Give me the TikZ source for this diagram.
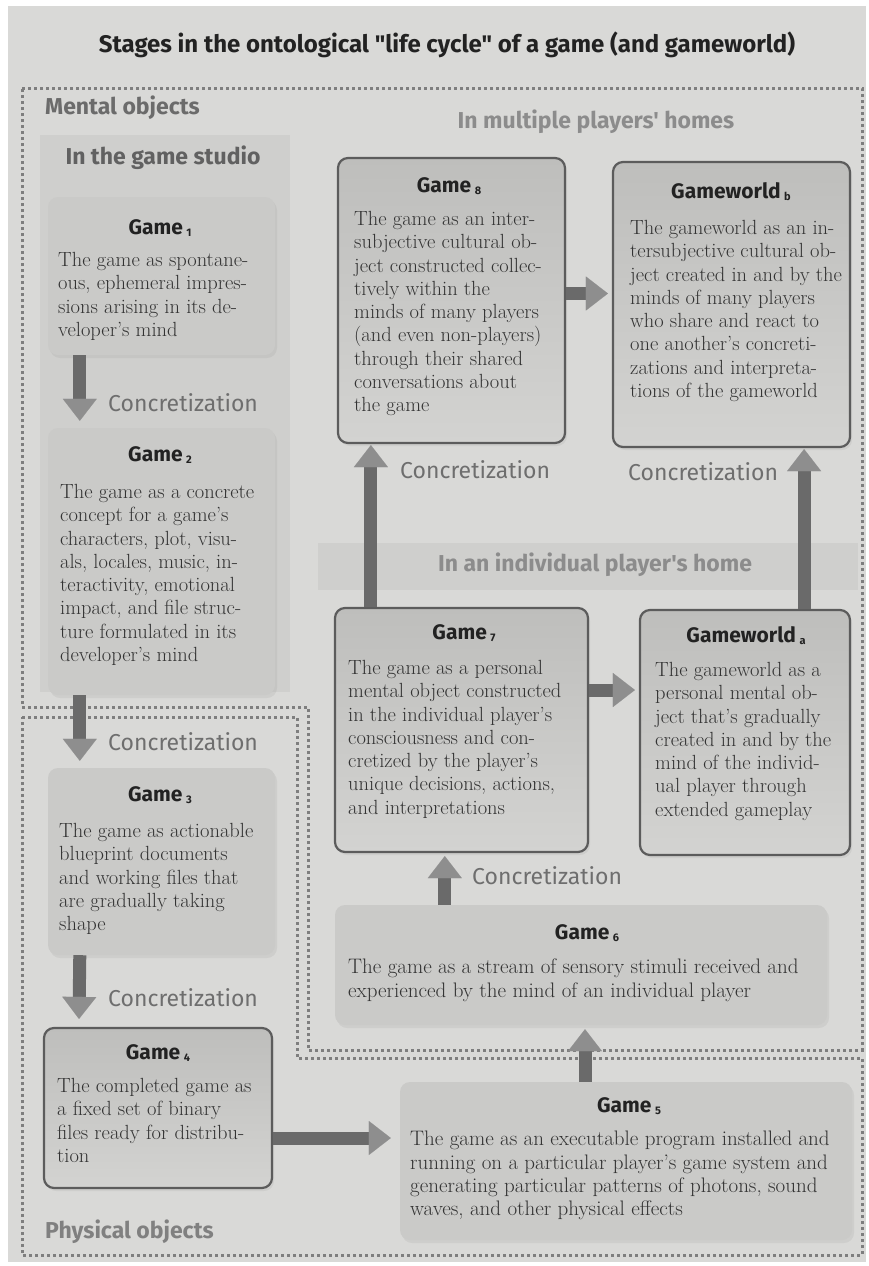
\documentclass[tikz,border=0pt]{standalone}
\usepackage{fontspec}
\newfontfamily\firasans{Fira Sans}
\usetikzlibrary{arrows.meta,shadows}
\definecolor{page}{HTML}{D9D9D7}
\definecolor{studio}{HTML}{CFCFCD}
\definecolor{band}{HTML}{CFCFCD}
\definecolor{softfill}{HTML}{CACAC8}
\definecolor{hardtop}{HTML}{BEBEBC}
\definecolor{hardbot}{HTML}{D3D3D1}
\definecolor{border}{HTML}{5C5C5C}
\definecolor{textc}{HTML}{333333}
\definecolor{headc}{HTML}{222222}
\definecolor{concc}{HTML}{6E6E6E}
\definecolor{arrc}{HTML}{6A6A6A}
\definecolor{arrhead}{HTML}{8E8E8E}
\definecolor{dotc}{HTML}{7E7E7E}
\begin{document}
\begin{tikzpicture}[x=1pt,y=-1pt,
  box/.style={rectangle, rounded corners=10pt, inner sep=0pt},
  softbox/.style={box, fill=softfill, drop shadow={shadow xshift=2pt, shadow yshift=-3pt, opacity=0.12}},
  hardbox/.style={box, draw=border, line width=2.2pt, top color=hardtop, bottom color=hardbot, drop shadow={shadow xshift=2pt, shadow yshift=-3pt, opacity=0.12}},
  head/.style={font=\firasans\bfseries\fontsize{21}{23}\selectfont, text=headc, inner sep=0pt},
  body/.style={font=\fontsize{20.5}{23.3}\selectfont, align=left, anchor=north west, inner sep=0pt, text=textc},
  widebody/.style={body, font=\fontsize{21}{23.3}\selectfont},
  conc/.style={font=\firasans\fontsize{23}{25}\selectfont, text=concc, anchor=west, inner sep=0pt},
  region/.style={font=\firasans\bfseries\fontsize{23}{25}\selectfont, inner sep=0pt},
  arr/.style={line width=13pt, draw=arrc, -{Triangle[width=34pt,length=22pt,line width=0.1pt,color=arrhead,fill=arrhead]}},
  dots/.style={draw=dotc, line width=3pt, dash pattern=on 3pt off 3pt},
]
\newcommand{\sub}[1]{\,{\fontsize{11}{11}\selectfont\raisebox{-2pt}{#1}}}
\useasboundingbox (0,0) rectangle (869,1266);
\fill[white] (0,0) rectangle (869,1266);
\fill[page] (8,6) rectangle (866,1262);

% title
\node[font=\firasans\bfseries\fontsize{24}{28}\selectfont, text=headc, inner sep=0pt] (title) at (447,45) {Stages in the ontological "life cycle" of a game (and gameworld)};

% background areas
\fill[studio] (40,135) rectangle (290,692);
\fill[band] (318,543) rectangle (858,590);

% region outlines
\draw[dots] (22,88) -- (862,88) -- (862,1050) -- (308,1050) -- (308,707) -- (22,707) -- cycle;
\draw[dots] (22,717) -- (297,717) -- (297,1058) -- (862,1058) -- (862,1255) -- (22,1255) -- cycle;

% region labels
\node[region, text=black!58, anchor=west] (mental) at (45,108) {Mental objects};
\node[region, text=black!45] (multi) at (596,122) {In multiple players' homes};
\node[region, text=black!62] (studiolab) at (163,158) {In the game studio};
\node[region, text=black!45] (indiv) at (595,565) {In an individual player's home};
\node[region, text=black!50, anchor=west] (physical) at (45,1232) {Physical objects};

% boxes
\node[softbox, minimum width=227pt, minimum height=158pt] (g1) at (161.5,276) {};
\node[softbox, minimum width=227pt, minimum height=267pt] (g2) at (161.5,561.5) {};
\node[softbox, minimum width=227pt, minimum height=187pt] (g3) at (161.5,861.5) {};
\node[hardbox, minimum width=228pt, minimum height=160pt] (g4) at (158,1108) {};
\node[softbox, minimum width=452pt, minimum height=158pt] (g5) at (626,1161) {};
\node[softbox, minimum width=492pt, minimum height=120pt] (g6) at (581,965) {};
\node[hardbox, minimum width=253pt, minimum height=244pt] (g7) at (461.5,730) {};
\node[hardbox, minimum width=210pt, minimum height=245pt] (gwa) at (745,732.5) {};
\node[hardbox, minimum width=227pt, minimum height=285pt] (g8) at (451.5,300.5) {};
\node[hardbox, minimum width=237pt, minimum height=285pt] (gwb) at (731.5,304.5) {};

% headings
\node[head] (h1) at (160,228) {Game\sub{1}};
\node[head] (h2) at (160,455) {Game\sub{2}};
\node[head] (h3) at (160,795) {Game\sub{3}};
\node[head] (h4) at (158,1053) {Game\sub{4}};
\node[head] (h5) at (629,1106) {Game\sub{5}};
\node[head] (h6) at (587,933) {Game\sub{6}};
\node[head] (h7) at (464,633) {Game\sub{7}};
\node[head] (hwa) at (746,636) {Gameworld\sub{a}};
\node[head] (h8) at (449,186) {Game\sub{8}};
\node[head] (hwb) at (731,192) {Gameworld\sub{b}};

% body texts
\node[body] (t1) at (58,252) {The game as spontane-\\ous, ephemeral impres-\\sions arising in its de-\\veloper's mind};
\node[body] (t2) at (60,484) {The game as a concrete\\concept for a game's\\characters, plot, visu-\\als, locales, music, in-\\teractivity, emotional\\impact, and file struc-\\ture formulated in its\\developer's mind};
\node[body] (t3) at (59,823) {The game as actionable\\blueprint documents\\and working files that\\are gradually taking\\shape};
\node[body] (t4) at (57,1078) {The completed game as\\a fixed set of binary\\files ready for distribu-\\tion};
\node[widebody] (t5) at (410,1131) {The game as an executable program installed and\\running on a particular player's game system and\\generating particular patterns of photons, sound\\waves, and other physical effects};
\node[widebody] (t6) at (348,959) {The game as a stream of sensory stimuli received and\\experienced by the mind of an individual player};
\node[body] (t7) at (348,660) {The game as a personal\\mental object constructed\\in the individual player's\\consciousness and con-\\cretized by the player's\\unique decisions, actions,\\and interpretations};
\node[body] (twa) at (655,662) {The gameworld as a\\personal mental ob-\\ject that's gradually\\created in and by the\\mind of the individ-\\ual player through\\extended gameplay};
\node[body] (t8) at (354,211) {The game as an inter-\\subjective cultural ob-\\ject constructed collec-\\tively within the\\minds of many players\\(and even non-players)\\through their shared\\conversations about\\the game};
\node[body] (twb) at (630,220) {The gameworld as an in-\\tersubjective cultural ob-\\ject created in and by the\\minds of many players\\who share and react to\\one another's concreti-\\zations and interpreta-\\tions of the gameworld};

% connectors
\draw[arr, shorten >=7pt] ([xshift=32pt]g1.south west) -- ([xshift=32pt]g2.north west);
\draw[arr, shorten >=7pt] ([xshift=32pt]g2.south west) -- ([xshift=32pt]g3.north west);
\draw[arr, shorten >=8pt] ([xshift=32pt]g3.south west) -- ([xshift=36pt]g4.north west);
\draw[arr, shorten >=9pt] ([yshift=-30pt]g4.east) coordinate (a45) -- (a45 -| g5.west);
\draw[arr, shorten >=4pt] ([xshift=-41pt]g5.north) coordinate (a56) -- (a56 |- g6.south);
\draw[arr, shorten >=3pt] ([xshift=110pt]g6.north west) coordinate (a67) -- (a67 |- g7.south);
\draw[arr, shorten >=4pt] ([yshift=40pt]g7.east) coordinate (a7a) -- (a7a -| gwa.west);
\draw[arr, shorten >=1pt] ([xshift=37pt]g7.north west) coordinate (a78) -- (a78 |- g8.south);
\draw[arr, shorten >=1pt] ([xshift=-47pt]gwa.north east) coordinate (aab) -- (aab |- gwb.south);
\draw[arr, shorten >=4pt] ([yshift=7pt]g8.east) coordinate (a8b) -- (a8b -| gwb.west);

% connector labels
\node[conc] (c12) at (108,403) {Concretization};
\node[conc] (c23) at (108,742) {Concretization};
\node[conc] (c34) at (108,998) {Concretization};
\node[conc] (c67) at (472,876) {Concretization};
\node[conc] (c78) at (400,470) {Concretization};
\node[conc] (cab) at (628,472) {Concretization};
\end{tikzpicture}
\end{document}
